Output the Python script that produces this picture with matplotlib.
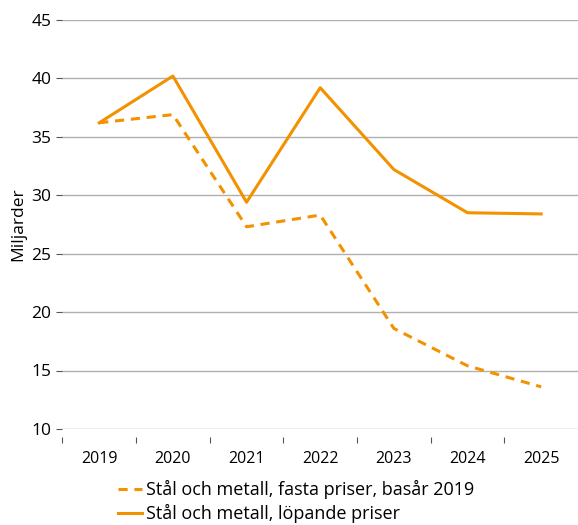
import matplotlib.pyplot as plt

plt.rcParams['font.family'] = ['Open Sans', 'DejaVu Sans']

years = ['2019', '2020', '2021', '2022', '2023', '2024', '2025']
fasta = [36.2, 36.9, 27.3, 28.3, 18.6, 15.4, 13.6]
lopande = [36.2, 40.2, 29.4, 39.2, 32.2, 28.5, 28.4]
orange = '#F39200'

fig = plt.figure(figsize=(5.78, 5.25), dpi=100)
ax = fig.add_axes([0.108, 0.183, 0.892, 0.779])

x = range(len(years))
ax.plot(x, fasta, color=orange, lw=2.2, ls=(0, (3, 2.2)), label='Stål och metall, fasta priser, basår 2019')
ax.plot(x, lopande, color=orange, lw=2.2, label='Stål och metall, löpande priser')

ax.set_ylim(10, 45)
ax.set_yticks(range(10, 50, 5))
ax.set_xlim(-0.5, 6.5)
ax.set_xticks(list(x))
ax.set_xticklabels(years)
ax.set_xticks([i - 0.5 for i in range(7)], minor=True)
ax.tick_params(axis='x', which='major', length=0, pad=10, labelsize=11.5)
ax.tick_params(axis='x', which='minor', length=4, width=0.8, color='#555555', direction='out')
ax.tick_params(axis='y', length=4, width=0.8, color='#555555', pad=4, labelsize=12.5)
ax.yaxis.grid(True, color='#b0b0b0', lw=1)
ax.set_axisbelow(True)
for s in ['top', 'right', 'left']:
    ax.spines[s].set_visible(False)
ax.spines['bottom'].set_position(('outward', 6))
ax.spines['bottom'].set_visible(False)
ax.set_ylabel('Miljarder', fontsize=12.5, labelpad=4)

fig.legend(loc='upper left', bbox_to_anchor=(0.205, 0.086), frameon=False,
           fontsize=13, handlelength=1.3, handletextpad=0.2, labelspacing=0.3,
           borderpad=0, borderaxespad=0)

fig.savefig('out.png', dpi=100)
